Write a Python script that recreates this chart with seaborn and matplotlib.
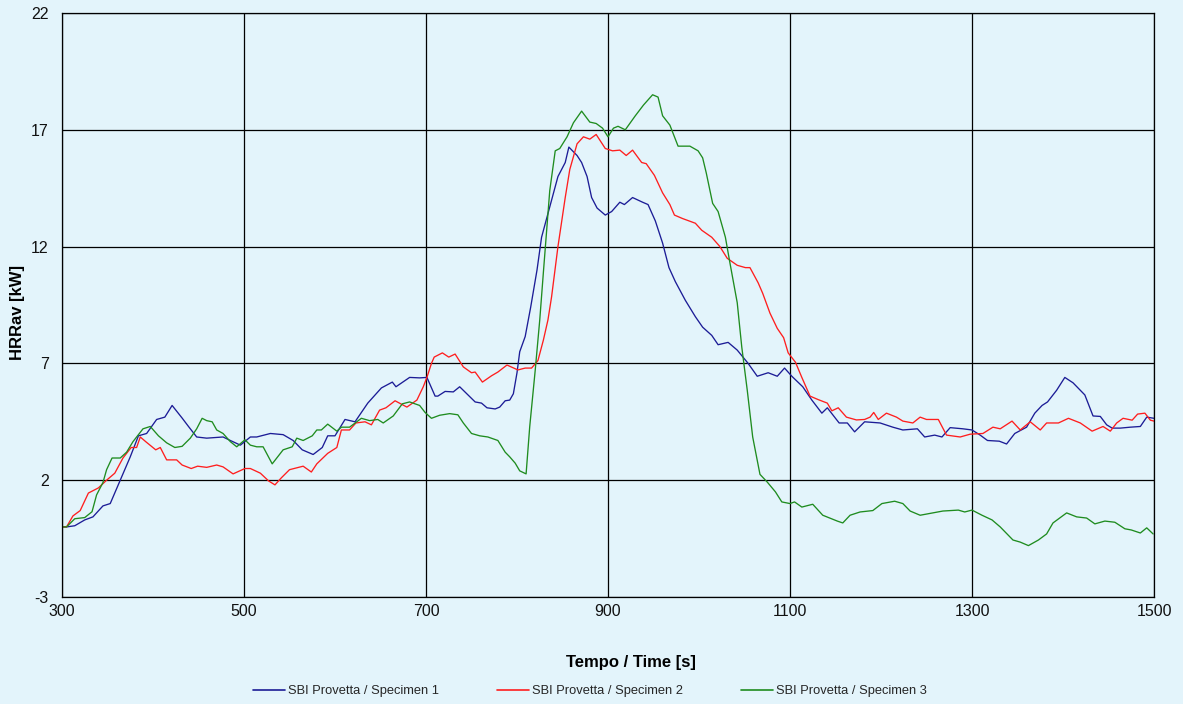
import matplotlib
matplotlib.use("Agg")
import matplotlib.pyplot as plt
import seaborn as sns
import pandas as pd

# ---------------- data (time [s], HRRav [kW]) ----------------
series_names = ["SBI Provetta / Specimen 1", "SBI Provetta / Specimen 2", "SBI Provetta / Specimen 3"]

spec1_points = [
    (300, 0.0), (305, 0.0), (314, 0.05), (325, 0.3), (334, 0.43), (345, 0.9), (353, 1.0), (364, 2.0),
    (375, 3.0), (384, 3.9), (393, 4.0), (404, 4.6), (413, 4.7), (421, 5.2), (432, 4.66), (439, 4.3),
    (448, 3.85), (459, 3.8), (477, 3.85), (485, 3.7), (496, 3.5), (507, 3.85), (514, 3.85), (529, 4.0),
    (543, 3.95), (554, 3.7), (564, 3.3), (576, 3.1), (586, 3.4), (592, 3.9), (600, 3.9), (611, 4.6),
    (622, 4.5), (636, 5.3), (651, 5.95), (663, 6.2), (667, 6.0), (682, 6.4), (693, 6.38), (701, 6.4),
    (710, 5.6), (713, 5.6), (721, 5.8), (730, 5.78), (737, 6.0), (754, 5.35), (761, 5.3), (767, 5.1),
    (776, 5.05), (781, 5.13), (787, 5.4), (792, 5.43), (796, 5.7), (800, 6.6), (803, 7.5), (809, 8.15),
    (815, 9.4), (822, 11.0), (827, 12.4), (836, 13.7), (845, 15.0), (853, 15.6), (857, 16.26), (866, 15.9),
    (871, 15.6), (877, 15.0), (882, 14.1), (888, 13.65), (897, 13.35), (904, 13.5), (913, 13.9), (918, 13.8),
    (927, 14.1), (938, 13.9), (944, 13.8), (952, 13.1), (960, 12.15), (967, 11.1), (974, 10.5), (985, 9.7),
    (996, 9.0), (1004, 8.55), (1014, 8.2), (1021, 7.8), (1032, 7.9), (1042, 7.57), (1054, 7.0), (1064, 6.45),
    (1076, 6.6), (1086, 6.45), (1094, 6.8), (1102, 6.45), (1114, 6.0), (1124, 5.43), (1135, 4.87), (1141, 5.1),
    (1154, 4.45), (1163, 4.45), (1171, 4.07), (1182, 4.5), (1199, 4.45), (1213, 4.27), (1224, 4.15), (1240, 4.2),
    (1248, 3.85), (1259, 3.93), (1267, 3.85), (1276, 4.25), (1290, 4.2), (1300, 4.15), (1309, 3.93), (1317, 3.7),
    (1330, 3.67), (1338, 3.55), (1347, 4.0), (1360, 4.27), (1369, 4.87), (1377, 5.2), (1383, 5.35), (1393, 5.85),
    (1402, 6.4), (1411, 6.17), (1424, 5.65), (1433, 4.75), (1441, 4.73), (1448, 4.37), (1454, 4.23), (1463, 4.23),
    (1474, 4.27), (1485, 4.3), (1492, 4.7), (1500, 4.65),
]

spec2_points = [
    (300, 0.0), (305, 0.0), (312, 0.47), (320, 0.7), (329, 1.45), (340, 1.67), (349, 2.0), (358, 2.3),
    (367, 2.95), (376, 3.4), (382, 3.4), (386, 3.85), (392, 3.65), (403, 3.3), (408, 3.4), (415, 2.87),
    (426, 2.87), (432, 2.65), (442, 2.5), (449, 2.6), (459, 2.55), (470, 2.65), (477, 2.57), (488, 2.27),
    (501, 2.5), (507, 2.5), (518, 2.3), (527, 1.97), (534, 1.8), (541, 2.1), (550, 2.45), (565, 2.6),
    (574, 2.35), (580, 2.7), (592, 3.15), (602, 3.4), (607, 4.15), (616, 4.15), (623, 4.45), (633, 4.5),
    (640, 4.37), (649, 5.0), (656, 5.1), (666, 5.4), (679, 5.13), (690, 5.43), (697, 6.0), (701, 6.4),
    (706, 7.0), (709, 7.27), (718, 7.45), (725, 7.27), (732, 7.4), (741, 6.85), (750, 6.6), (754, 6.63),
    (762, 6.2), (772, 6.47), (779, 6.63), (789, 6.93), (801, 6.72), (809, 6.8), (816, 6.8), (823, 7.12),
    (829, 8.0), (834, 8.86), (838, 9.85), (845, 12.0), (853, 14.1), (858, 15.3), (866, 16.4), (873, 16.7),
    (880, 16.6), (887, 16.8), (897, 16.2), (905, 16.1), (913, 16.13), (920, 15.9), (927, 16.13), (937, 15.6),
    (942, 15.55), (951, 15.05), (960, 14.3), (968, 13.8), (973, 13.35), (982, 13.2), (996, 13.0), (1003, 12.7),
    (1014, 12.4), (1023, 12.0), (1031, 11.5), (1042, 11.2), (1051, 11.1), (1056, 11.1), (1065, 10.45), (1070, 10.0),
    (1078, 9.15), (1086, 8.5), (1093, 8.1), (1098, 7.45), (1106, 7.05), (1113, 6.4), (1122, 5.6), (1131, 5.45),
    (1141, 5.3), (1146, 4.97), (1153, 5.1), (1162, 4.7), (1173, 4.58), (1182, 4.6), (1188, 4.7), (1192, 4.9),
    (1197, 4.6), (1206, 4.87), (1217, 4.7), (1224, 4.53), (1235, 4.45), (1243, 4.7), (1250, 4.6), (1263, 4.6),
    (1272, 3.93), (1287, 3.85), (1298, 3.97), (1312, 4.0), (1323, 4.27), (1331, 4.2), (1344, 4.53), (1353, 4.15),
    (1364, 4.5), (1375, 4.15), (1382, 4.45), (1395, 4.45), (1406, 4.65), (1419, 4.45), (1432, 4.1), (1444, 4.3),
    (1452, 4.1), (1459, 4.45), (1466, 4.65), (1476, 4.57), (1482, 4.83), (1490, 4.87), (1496, 4.57), (1500, 4.53),
]

spec3_points = [
    (300, 0.0), (305, 0.0), (314, 0.35), (325, 0.4), (333, 0.65), (338, 1.37), (345, 1.9), (349, 2.45),
    (355, 2.95), (364, 2.95), (371, 3.2), (378, 3.65), (389, 4.2), (397, 4.3), (406, 3.9), (415, 3.6),
    (424, 3.4), (432, 3.45), (441, 3.8), (448, 4.2), (454, 4.65), (459, 4.55), (465, 4.5), (470, 4.15),
    (477, 4.0), (485, 3.65), (492, 3.43), (501, 3.73), (507, 3.5), (514, 3.43), (521, 3.43), (531, 2.7),
    (543, 3.3), (553, 3.43), (558, 3.8), (565, 3.7), (575, 3.9), (580, 4.15), (585, 4.15), (592, 4.4),
    (602, 4.1), (607, 4.27), (616, 4.27), (629, 4.65), (638, 4.55), (647, 4.6), (653, 4.45), (664, 4.75),
    (674, 5.27), (682, 5.35), (693, 5.2), (699, 4.9), (706, 4.65), (715, 4.78), (726, 4.85), (735, 4.8),
    (741, 4.45), (750, 4.0), (759, 3.9), (768, 3.85), (779, 3.7), (787, 3.2), (792, 3.0), (798, 2.73),
    (803, 2.4), (810, 2.27), (814, 4.3), (820, 6.7), (825, 8.86), (829, 10.9), (836, 14.4), (842, 16.1),
    (847, 16.2), (855, 16.7), (862, 17.3), (871, 17.8), (880, 17.33), (887, 17.27), (894, 17.07), (900, 16.7),
    (906, 17.07), (911, 17.15), (919, 17.0), (930, 17.6), (939, 18.06), (949, 18.5), (955, 18.4), (960, 17.6),
    (968, 17.2), (977, 16.3), (990, 16.3), (999, 16.1), (1004, 15.8), (1008, 15.15), (1015, 13.85), (1021, 13.5),
    (1029, 12.4), (1034, 11.3), (1042, 9.6), (1047, 7.7), (1053, 5.86), (1059, 3.85), (1067, 2.25), (1075, 1.92),
    (1084, 1.5), (1091, 1.07), (1100, 1.0), (1105, 1.07), (1113, 0.85), (1125, 0.97), (1136, 0.5), (1152, 0.25),
    (1158, 0.17), (1166, 0.5), (1177, 0.64), (1191, 0.7), (1201, 1.0), (1215, 1.1), (1224, 1.0), (1232, 0.68),
    (1243, 0.5), (1257, 0.6), (1268, 0.68), (1285, 0.72), (1292, 0.64), (1300, 0.72), (1311, 0.5), (1322, 0.3),
    (1331, 0.0), (1345, -0.56), (1353, -0.65), (1362, -0.8), (1373, -0.56), (1382, -0.3), (1389, 0.17), (1404, 0.6),
    (1415, 0.43), (1426, 0.38), (1435, 0.13), (1446, 0.25), (1457, 0.2), (1468, -0.08), (1475, -0.13), (1485, -0.26),
    (1492, -0.04), (1499, -0.3),
]

x_ticks = [300, 500, 700, 900, 1100, 1300, 1500]
y_ticks = [-3, 2, 7, 12, 17, 22]
x_label = "Tempo / Time [s]"
y_label = "HRRav [kW]"

# ---------------- styling ----------------
bg = "#E3F4FB"
colors = ["#1C1C96", "#FF1E1E", "#1F8C1F"]

sns.set_style("white", {"axes.facecolor": bg, "figure.facecolor": bg})
plt.rcParams["font.family"] = ["Liberation Sans", "DejaVu Sans"]

rows = []
for name, pts in zip(series_names, [spec1_points, spec2_points, spec3_points]):
    for t, v in pts:
        rows.append({"Tempo": t, "HRR": v, "Serie": name})
df = pd.DataFrame(rows)

fig = plt.figure(figsize=(11.83, 7.04), dpi=100, facecolor=bg)
ax = fig.add_axes([62 / 1183, 1 - 597 / 704, (1154 - 62) / 1183, (597 - 13) / 704])
ax.set_facecolor(bg)

sns.lineplot(data=df, x="Tempo", y="HRR", hue="Serie", hue_order=series_names,
             palette=colors, estimator=None, sort=True, linewidth=0.95, ax=ax)

ax.set_xlim(300, 1500)
ax.set_ylim(-3, 22)
ax.set_xticks(x_ticks)
ax.set_yticks(y_ticks)
ax.set_xticklabels([str(v) for v in x_ticks])
ax.set_yticklabels([str(v) for v in y_ticks])
ax.grid(True, color="#000000", linewidth=0.9)
ax.set_axisbelow(True)
for s in ax.spines.values():
    s.set_visible(True)
    s.set_color("#000000")
    s.set_linewidth(0.9)

ax.tick_params(axis="x", direction="out", length=3.5, width=0.8, color="#555555",
               pad=1.5, labelsize=11.5, labelcolor="#111111")
ax.tick_params(axis="y", direction="out", length=3.5, width=0.8, color="#555555",
               pad=6, labelsize=11.5, labelcolor="#111111")

ax.set_xlabel(x_label, fontsize=12, fontweight="bold", color="#000000")
ax.xaxis.set_label_coords((631 - 62) / 1092, -(663 - 597) / 584)
ax.xaxis.label.set_va("center")
ax.set_ylabel(y_label, fontsize=12, fontweight="bold", color="#000000")
ax.yaxis.set_label_coords((18 - 62) / 1092, (597 - 312) / 584)
ax.yaxis.label.set_va("center")

handles, labels = ax.get_legend_handles_labels()
if ax.get_legend() is not None:
    ax.get_legend().remove()
leg = fig.legend(handles, labels, loc="center", bbox_to_anchor=(590 / 1183, 1 - 691 / 704),
                 ncol=3, frameon=False, fontsize=9.3, handlelength=2.5, handletextpad=0.2,
                 columnspacing=4.5, borderaxespad=0)
for line in leg.get_lines():
    line.set_linewidth(1.2)

fig.savefig("out.png", dpi=100, facecolor=bg)
